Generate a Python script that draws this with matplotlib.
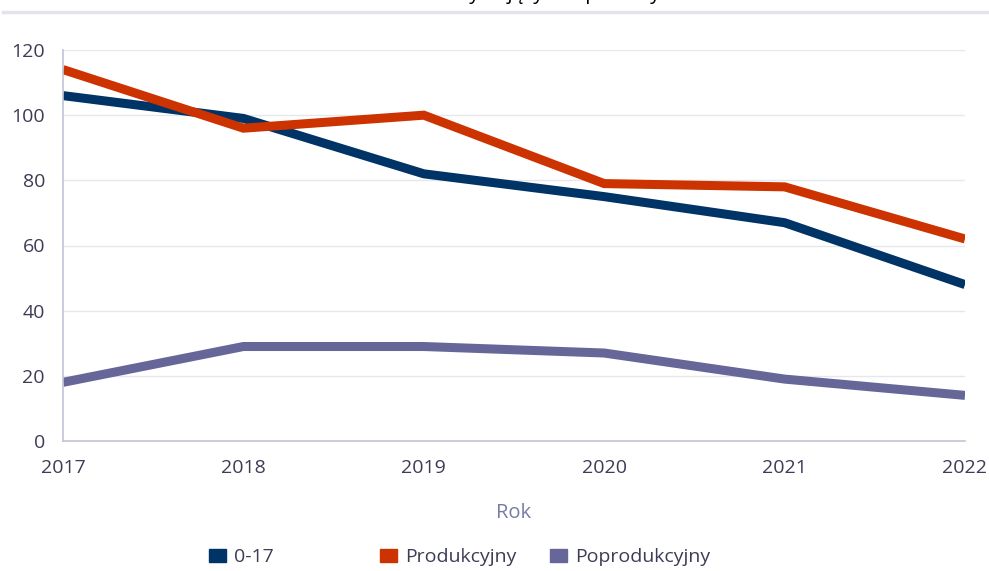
import matplotlib
matplotlib.use("Agg")
import matplotlib.pyplot as plt
from matplotlib.lines import Line2D
from matplotlib.patches import Patch

# data
years = [2017, 2018, 2019, 2020, 2021, 2022]
age_0_17 = [106, 99, 82, 75, 67, 48]
produkcyjny = [114, 96, 100, 79, 78, 62]
poprodukcyjny = [18, 29, 29, 27, 19, 14]
series_names = ["0-17", "Produkcyjny", "Poprodukcyjny"]
series_colors = ["#003366", "#cc3300", "#666699"]
y_ticks = [0, 20, 40, 60, 80, 100, 120]
title = "Liczba osób korzystających z pomocy"

plt.rcParams['font.family'] = ['Open Sans', 'DejaVu Sans']

W, H = 989, 571
fig = plt.figure(figsize=(W / 100, H / 100), dpi=100)
ax = fig.add_axes([63 / W, 130 / H, 902 / W, 391 / H])

for vals, col in zip([age_0_17, produkcyjny, poprodukcyjny], series_colors):
    ax.plot(years, vals, color=col, lw=6.5, solid_capstyle='butt', solid_joinstyle='miter')

ax.set_xlim(2017, 2022)
ax.set_ylim(0, 120)
ax.set_yticks(y_ticks)
ax.set_xticks(years)
ax.grid(axis='y', color='#e6e6ee', lw=1)
ax.set_axisbelow(True)
for s in ['top', 'right']:
    ax.spines[s].set_visible(False)
for s in ['left', 'bottom']:
    ax.spines[s].set_color('#c0c4d8')
    ax.spines[s].set_linewidth(1.2)
ax.tick_params(length=0, labelsize=14, colors='#3c3c55')
ax.tick_params(axis='y', pad=13)
ax.tick_params(axis='x', pad=13)
ax.set_xlabel("Rok", fontsize=14.5, color='#7a7aa6', labelpad=19)

# in the reference the title is cropped at the top edge, only descenders show
fig.text(487 / W, 1 + 1 / H, title, ha='center', va='baseline', fontsize=14.5, color='black')
fig.add_artist(Line2D([3 / W, 1], [1 - 12 / H, 1 - 12 / H], color='#e4e4ec', lw=2.5))

# legend: fixed-width columns
legend_x = [209, 380, 550]
for name, col, lx in zip(series_names, series_colors, legend_x):
    fig.legend(handles=[Patch(color=col, label=name)], loc='center left',
               bbox_to_anchor=(lx / W, 1 - 557 / H), frameon=False,
               handlelength=0.85, handleheight=0.65, handletextpad=0.45,
               borderpad=0, borderaxespad=0, fontsize=14, labelcolor='#3c3c55')

fig.savefig("out.png", dpi=100)
